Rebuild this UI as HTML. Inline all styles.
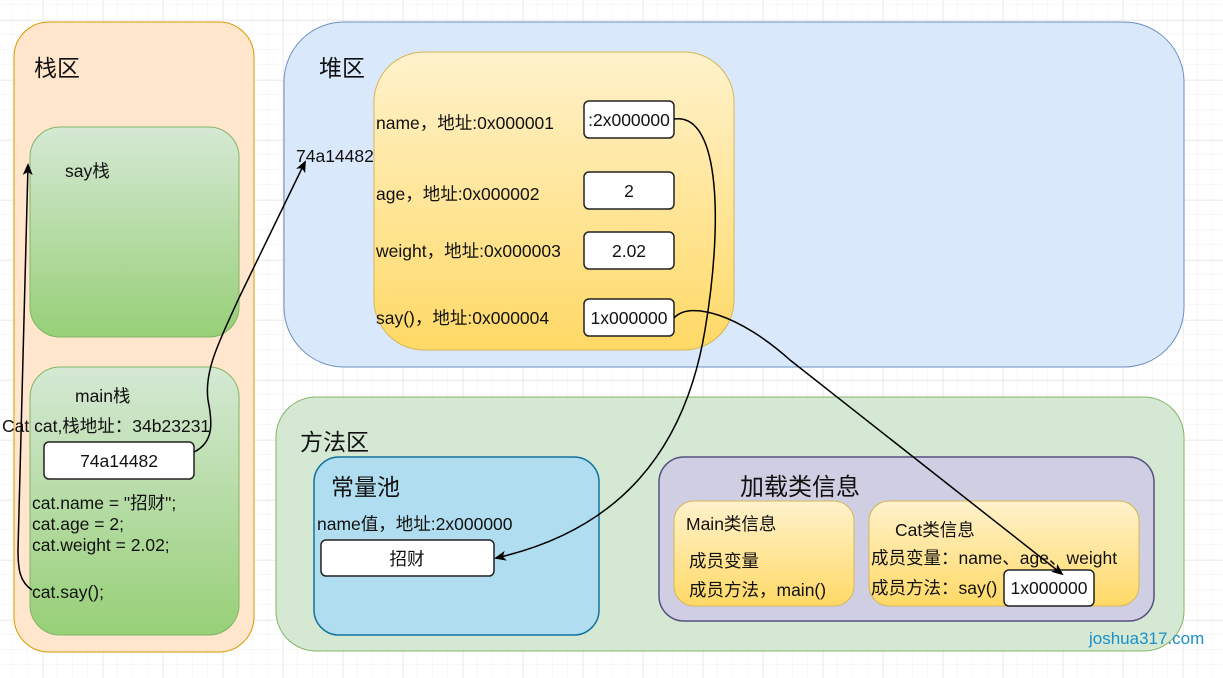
<!DOCTYPE html>
<html><head><meta charset="utf-8"><style>
html,body{margin:0;padding:0;background:#fff}
svg{display:block}
text{font-family:"Liberation Sans","Noto Sans CJK SC",sans-serif;fill:#111}
</style></head><body>
<svg width="1223" height="678" viewBox="0 0 1223 678" xmlns="http://www.w3.org/2000/svg">
<defs>
<pattern id="gm" width="15" height="15" patternUnits="userSpaceOnUse" x="43" y="20"><path d="M15 0V15M0 15H15" fill="none" stroke="#f2f2f2" stroke-width="1"/></pattern>
<pattern id="gM" width="60" height="60" patternUnits="userSpaceOnUse" x="43" y="20"><path d="M0 0V60M0 0H60" fill="none" stroke="#e2e2e2" stroke-width="1"/></pattern>
<linearGradient id="gr" x1="0" y1="0" x2="0" y2="1"><stop offset="0" stop-color="#d5e8d4"/><stop offset="1" stop-color="#97d077"/></linearGradient>
<linearGradient id="ye" x1="0" y1="0" x2="0" y2="1"><stop offset="0" stop-color="#fff2cc"/><stop offset="1" stop-color="#ffd966"/></linearGradient>
<marker id="ar" markerWidth="12" markerHeight="10" refX="10" refY="5" orient="auto" markerUnits="userSpaceOnUse"><path d="M0,0 L12,5 L0,10 L3,5 Z" fill="#000"/></marker>
</defs>
<rect width="1223" height="678" fill="url(#gm)"/>
<rect width="1223" height="678" fill="url(#gM)"/>

<!-- stack -->
<rect x="14" y="22" width="240" height="630" rx="35" fill="#ffe6cc" stroke="#d79b00"/>
<text x="34" y="76" font-size="23">栈区</text>
<rect x="30" y="127" width="209" height="210" rx="30" fill="url(#gr)" stroke="#82b366"/>
<text x="65" y="177" font-size="17.5">say栈</text>
<rect x="30" y="367" width="209" height="268" rx="30" fill="url(#gr)" stroke="#82b366"/>
<text x="75" y="402" font-size="17.5">main栈</text>
<text x="2" y="432" font-size="17.5">Cat cat,栈地址：34b23231</text>
<rect x="44" y="442" width="150" height="37" rx="5" fill="#fff" stroke="#222" stroke-width="1.5"/>
<text x="119" y="467" font-size="17.5" text-anchor="middle">74a14482</text>
<text x="32" y="509" font-size="17.5">cat.name = "招财";</text>
<text x="32" y="530" font-size="17.5">cat.age = 2;</text>
<text x="32" y="551" font-size="17.5">cat.weight = 2.02;</text>
<text x="32" y="598" font-size="17.5">cat.say();</text>

<!-- heap -->
<rect x="284" y="22" width="900" height="345" rx="60" fill="#dae8fc" stroke="#6c8ebf"/>
<text x="319" y="76" font-size="23">堆区</text>
<text x="296" y="162" font-size="17.5">74a14482</text>
<rect x="374" y="52" width="360" height="298" rx="50" fill="url(#ye)" stroke="#d6b656"/>
<text x="376" y="129" font-size="17.5">name，地址:0x000001</text>
<text x="376" y="200" font-size="17.5">age，地址:0x000002</text>
<text x="376" y="257" font-size="17.5">weight，地址:0x000003</text>
<text x="376" y="324" font-size="17.5">say()，地址:0x000004</text>
<rect x="584" y="101" width="90" height="37" rx="5" fill="#fff" stroke="#222" stroke-width="1.5"/>
<text x="629" y="126" font-size="17.5" text-anchor="middle">:2x000000</text>
<rect x="584" y="172" width="90" height="37" rx="5" fill="#fff" stroke="#222" stroke-width="1.5"/>
<text x="629" y="197" font-size="17.5" text-anchor="middle">2</text>
<rect x="584" y="232" width="90" height="37" rx="5" fill="#fff" stroke="#222" stroke-width="1.5"/>
<text x="629" y="257" font-size="17.5" text-anchor="middle">2.02</text>
<rect x="584" y="299" width="90" height="37" rx="5" fill="#fff" stroke="#222" stroke-width="1.5"/>
<text x="629" y="324" font-size="17.5" text-anchor="middle">1x000000</text>

<!-- method area -->
<rect x="276" y="397" width="908" height="254" rx="40" fill="#d5e8d4" stroke="#82b366"/>
<text x="300" y="450" font-size="23">方法区</text>
<rect x="314" y="457" width="285" height="178" rx="25" fill="#b1ddf0" stroke="#10739e" stroke-width="1.5"/>
<text x="331" y="495" font-size="23">常量池</text>
<text x="317" y="530" font-size="17.5">name值，地址:2x000000</text>
<rect x="321" y="540" width="173" height="36" rx="5" fill="#fff" stroke="#222" stroke-width="1.5"/>
<text x="407" y="565" font-size="17.5" text-anchor="middle">招财</text>

<rect x="659" y="457" width="495" height="164" rx="25" fill="#d0cee2" stroke="#56517e" stroke-width="1.5"/>
<text x="740" y="495" font-size="24">加载类信息</text>
<rect x="674" y="501" width="180" height="105" rx="20" fill="url(#ye)" stroke="#d6b656"/>
<text x="686" y="530" font-size="17.5">Main类信息</text>
<text x="689" y="567" font-size="17.5">成员变量</text>
<text x="689" y="596" font-size="17.5">成员方法，main()</text>
<rect x="869" y="501" width="270" height="105" rx="20" fill="url(#ye)" stroke="#d6b656"/>
<text x="895" y="536" font-size="17.5">Cat类信息</text>
<text x="871" y="564" font-size="17.5">成员变量：name、age、weight</text>
<text x="871" y="594" font-size="17.5">成员方法：say()</text>
<rect x="1004" y="570" width="90" height="36" rx="5" fill="#fff" stroke="#222" stroke-width="1.5"/>
<text x="1049" y="594" font-size="17.5" text-anchor="middle">1x000000</text>

<text x="1089" y="644" font-size="17" style="fill:#1a8fc9">joshua317.com</text>

<!-- connectors -->
<g fill="none" stroke="#000" stroke-width="1.5">
<path d="M194,452 C215,442 212,420 208,400 C204,370 220,340 238,300 L305,162" marker-end="url(#ar)"/>
<path d="M32,590 C20,582 18,570 18,550 L28,165" marker-end="url(#ar)"/>
<path d="M674,119 C722,112 722,230 705,330 C685,450 620,530 496,558" marker-end="url(#ar)"/>
<path d="M674,318 C690,300 740,315 790,360 L1062,574" marker-end="url(#ar)"/>
</g>
</svg>
</body></html>
